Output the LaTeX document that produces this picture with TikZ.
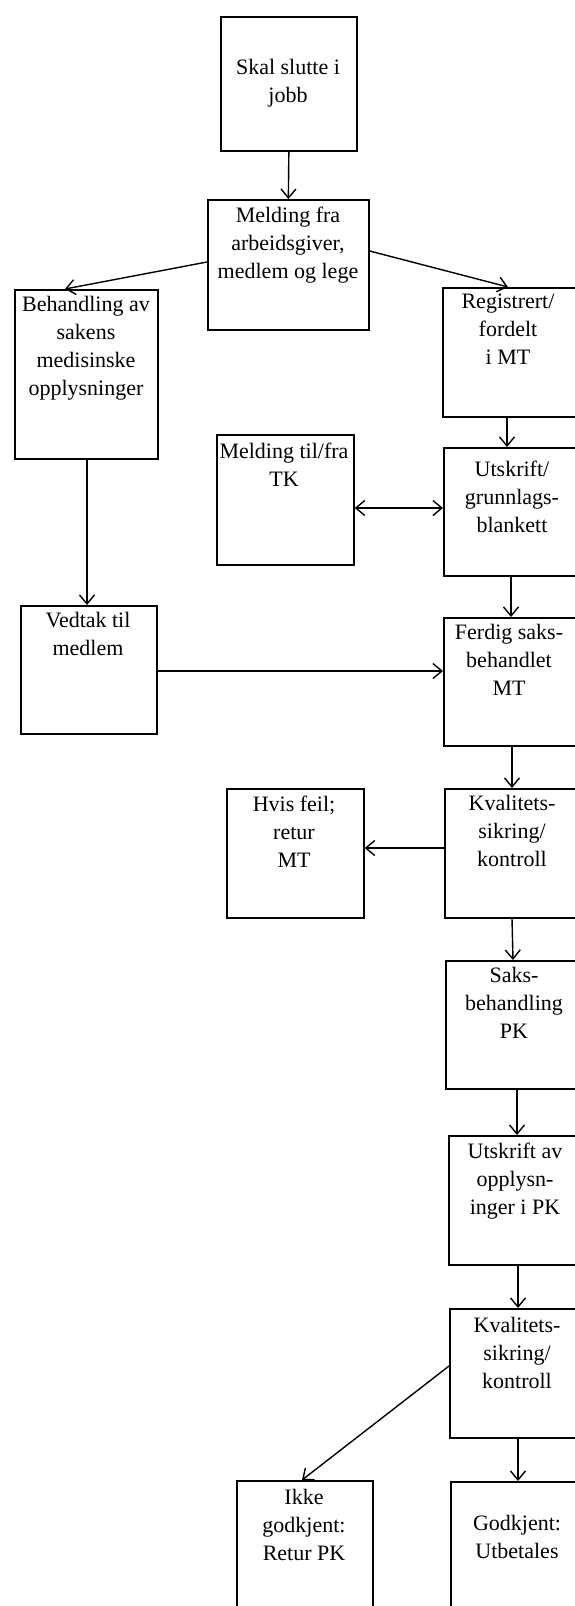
\documentclass[tikz,border=0pt]{standalone}
\usepackage{fontspec}
\setmainfont{Liberation Serif}
\usetikzlibrary{arrows.meta,calc}
\begin{document}
\begin{tikzpicture}[x=1pt,y=-1pt,
  box/.style={draw, line width=1.7pt, rectangle, anchor=north west, inner sep=0pt},
  txt/.style={align=center, inner sep=0pt, font=\fontsize{22}{28}\selectfont},
  arr/.style={line width=1.4pt, -{Straight Barb[length=9pt,width=15pt]}},
  darr/.style={line width=1.4pt, {Straight Barb[length=9pt,width=15pt]}-{Straight Barb[length=9pt,width=15pt]}}
]
\useasboundingbox (0,0) rectangle (575,1606);
\fill[white] (0,0) rectangle (575,1606);

% boxes
\node[box, minimum width=136pt, minimum height=134pt] (skal) at (220,16) {};
\node[box, minimum width=161pt, minimum height=130pt] (mfra) at (207,199) {};
\node[box, minimum width=143pt, minimum height=169pt] (beh)  at (14,289) {};
\node[box, minimum width=140pt, minimum height=129pt] (reg)  at (442,287) {};
\node[box, minimum width=137pt, minimum height=130pt] (tk)   at (216,434) {};
\node[box, minimum width=140pt, minimum height=128pt] (utsk) at (443,447) {};
\node[box, minimum width=136pt, minimum height=128pt] (ved)  at (20,605) {};
\node[box, minimum width=140pt, minimum height=128pt] (ferd) at (443,617) {};
\node[box, minimum width=140pt, minimum height=129pt] (kv1)  at (444,788) {};
\node[box, minimum width=137pt, minimum height=129pt] (hvis) at (226,788) {};
\node[box, minimum width=140pt, minimum height=128pt] (saks) at (445,960) {};
\node[box, minimum width=140pt, minimum height=129pt] (utav) at (448,1135) {};
\node[box, minimum width=140pt, minimum height=129pt] (kv2)  at (449,1308) {};
\node[box, minimum width=136pt, minimum height=140pt] (ikke) at (236,1480) {};
\node[box, minimum width=140pt, minimum height=140pt] (godk) at (450,1481) {};

% texts
\node[txt] (skal-t) at (288,82.5) {\strut Skal slutte i\\\strut jobb};
\node[txt] (mfra-t) at (288,245) {\strut Melding fra\\\strut arbeidsgiver,\\\strut medlem og lege};
\node[txt] (beh-t) at (86,348) {\strut Behandling av\\\strut sakens\\\strut medisinske\\\strut opplysninger};
\node[txt] (reg-t) at (508,331) {\strut Registrert/\\\strut fordelt\\\strut i MT};
\node[txt] (tk-t) at (284,466.5) {\strut Melding til/fra\\\strut TK};
\node[txt] (utsk-t) at (512,498.5) {\strut Utskrift/\\\strut grunnlags-\\\strut blankett};
\node[txt] (ved-t) at (88,636) {\strut Vedtak til\\\strut medlem};
\node[txt] (ferd-t) at (509,662) {\strut Ferdig saks-\\\strut behandlet\\\strut MT};
\node[txt] (kv1-t) at (512,833) {\strut Kvalitets-\\\strut sikring/\\\strut kontroll};
\node[txt] (hvis-t) at (294,833.5) {\strut Hvis feil;\\\strut retur\\\strut MT};
\node[txt] (saks-t) at (514,1005) {\strut Saks-\\\strut behandling\\\strut PK};
\node[txt] (utav-t) at (515,1180.5) {\strut Utskrift av\\\strut opplysn-\\\strut inger i PK};
\node[txt] (kv2-t) at (517,1354.5) {\strut Kvalitets-\\\strut sikring/\\\strut kontroll};
\node[txt] (ikke-t) at (304,1526.5) {\strut Ikke\\\strut godkjent:\\\strut Retur PK};
\node[txt] (godk-t) at (517,1539) {\strut Godkjent:\\\strut Utbetales};

% connectors
\draw[arr] (skal.south) -- (mfra.north);
\draw[arr] ($(mfra.north west)+(0,63)$) -- ($(beh.north west)+(51,0)$);
\draw[arr] ($(mfra.north east)+(0,52)$) -- ($(reg.north west)+(66,0)$);
\draw[arr] ($(reg.south west)+(65,0)$) -- ($(utsk.north west)+(64,0)$);
\draw[darr] ($(tk.north east)+(0,74)$) -- ($(utsk.north west)+(0,61)$);
\draw[arr] ($(beh.south west)+(73,0)$) -- ($(ved.north west)+(67,0)$);
\draw[arr] ($(utsk.south west)+(68,0)$) -- ($(ferd.north west)+(68,0)$);
\draw[arr] ($(ved.north east)+(0,66)$) -- ($(ferd.north west)+(0,54)$);
\draw[arr] ($(ferd.south west)+(69,0)$) -- ($(kv1.north west)+(68,0)$);
\draw[arr] ($(kv1.north west)+(0,60)$) -- ($(hvis.north east)+(0,60)$);
\draw[arr] ($(kv1.south west)+(68,0)$) -- ($(saks.north west)+(68,0)$);
\draw[arr] ($(saks.south west)+(72,0)$) -- ($(utav.north west)+(69,0)$);
\draw[arr] ($(utav.south west)+(70,0)$) -- ($(kv2.north west)+(69,0)$);
\draw[arr] ($(kv2.north west)+(0,58)$) -- ($(ikke.north west)+(66,0)$);
\draw[arr] ($(kv2.south west)+(69,0)$) -- ($(godk.north west)+(68,0)$);
\end{tikzpicture}
\end{document}
